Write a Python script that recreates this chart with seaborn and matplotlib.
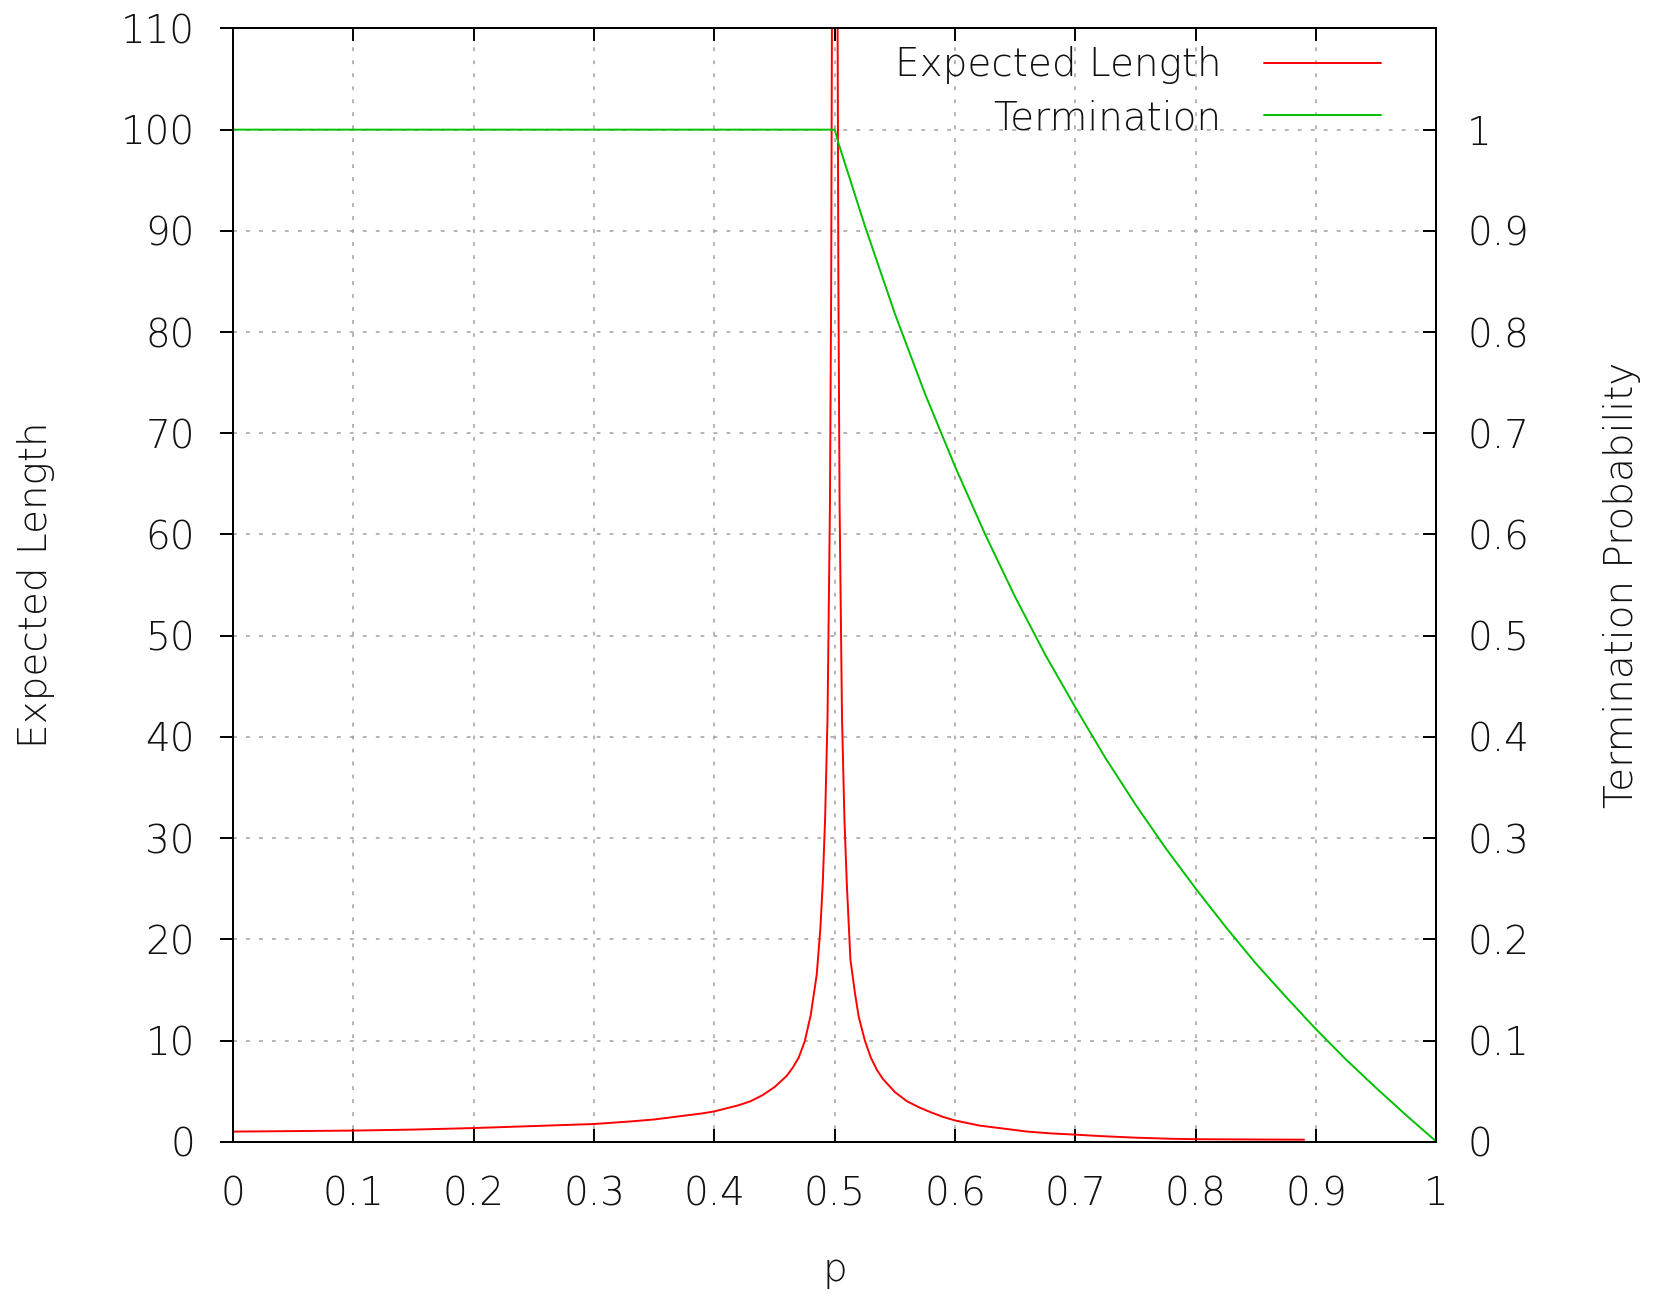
import numpy as np
import pandas as pd
import matplotlib
matplotlib.use("Agg")
import matplotlib.pyplot as plt
import seaborn as sns

# Expected length vs p (values above 110 are off the top)
p_len = [0.0, 0.05, 0.1, 0.15, 0.2, 0.25, 0.3, 0.33, 0.35, 0.37, 0.39, 0.40,
         0.41, 0.42, 0.43, 0.44, 0.45, 0.46, 0.465, 0.47, 0.475, 0.48, 0.485,
         0.488, 0.490, 0.492, 0.494, 0.496, 0.497, 0.498, 0.499, 0.4995,
         0.5005, 0.501, 0.502, 0.503, 0.504, 0.506, 0.508, 0.51, 0.513, 0.517,
         0.52, 0.525, 0.53, 0.535, 0.54, 0.55, 0.56, 0.57, 0.58, 0.59, 0.6,
         0.62, 0.64, 0.66, 0.68, 0.70, 0.72, 0.75, 0.78, 0.8, 0.85, 0.89]
len_vals = [1.0, 1.05, 1.1, 1.2, 1.35, 1.55, 1.75, 2.0, 2.2, 2.5, 2.8, 3.0,
            3.3, 3.6, 4.0, 4.6, 5.4, 6.5, 7.3, 8.3, 9.9, 12.5, 16.5,
            21.0, 25.5, 32.0, 42.0, 63.0, 84.0, 125.0, 250.0, 500.0,
            500.0, 250.0, 125.0, 85.0, 63.0, 42.0, 32.0, 25.5, 18.0, 14.5,
            12.3, 10.0, 8.3, 7.1, 6.2, 4.9, 4.0, 3.4, 2.9, 2.45, 2.1,
            1.6, 1.3, 1.0, 0.82, 0.7, 0.56, 0.4, 0.29, 0.25, 0.22, 0.2]

# Termination probability vs p
p_term = [0.0, 0.1, 0.2, 0.3, 0.4, 0.5, 0.503, 0.525, 0.55, 0.575, 0.6,
          0.625, 0.65, 0.675, 0.7, 0.725, 0.75, 0.775, 0.8, 0.825, 0.85,
          0.875, 0.9, 0.925, 0.95, 0.975, 1.0]
term_vals = [1.0, 1.0, 1.0, 1.0, 1.0, 1.0, 0.987, 0.905, 0.818, 0.739, 0.667,
             0.6, 0.538, 0.481, 0.429, 0.379, 0.333, 0.29, 0.25, 0.212, 0.176,
             0.143, 0.111, 0.081, 0.053, 0.026, 0.0]

x_ticks = [0, 0.1, 0.2, 0.3, 0.4, 0.5, 0.6, 0.7, 0.8, 0.9, 1]
x_labels = ["0", "0.1", "0.2", "0.3", "0.4", "0.5", "0.6", "0.7", "0.8", "0.9", "1"]
y_ticks = list(range(0, 111, 10))
y2_ticks = [0, 0.1, 0.2, 0.3, 0.4, 0.5, 0.6, 0.7, 0.8, 0.9, 1]
y2_labels = ["0", "0.1", "0.2", "0.3", "0.4", "0.5", "0.6", "0.7", "0.8", "0.9", "1"]

sns.set_style("white")
plt.rcParams['font.family'] = ['DejaVu Sans']
plt.rcParams['font.weight'] = 'light'
plt.rcParams['axes.labelweight'] = 'light'
fs = 28
txt = '#111111'

df_len = pd.DataFrame({'p': p_len, 'len': len_vals})
df_term = pd.DataFrame({'p': p_term, 'term': term_vals})

fig = plt.figure(figsize=(16.53, 12.93), dpi=100)
ax = fig.add_axes([0.141, 0.117, 0.728, 0.861])
ax2 = ax.twinx()

sns.lineplot(data=df_len, x='p', y='len', color='#ff0000', lw=1.4, ax=ax,
             label='Expected Length', legend=False, sort=False)
sns.lineplot(data=df_term, x='p', y='term', color='#00c000', lw=1.4, ax=ax2,
             label='Termination', legend=False, sort=False)

ax.set_xlim(0, 1)
ax.set_ylim(0, 110)
ax2.set_ylim(0, 1.1)

ax.set_xticks(x_ticks)
ax.set_xticklabels(x_labels)
ax.set_yticks(y_ticks)
ax2.set_yticks(y2_ticks)
ax2.set_yticklabels(y2_labels)

ax.grid(True, linestyle=(0, (2.5, 6)), color='#a0a0a0', lw=1.1)
ax2.grid(False)

for a in (ax, ax2):
    for s in a.spines.values():
        s.set_visible(True)
        s.set_color('black')
        s.set_linewidth(1.4)

ax.tick_params(axis='x', direction='in', length=9.5, width=1.4, pad=24,
               labelsize=fs, colors='black', labelcolor=txt, top=True, bottom=True)
ax.tick_params(axis='y', direction='out', length=9.5, width=1.4, pad=18,
               labelsize=fs, colors='black', labelcolor=txt, left=True, right=False)
ax2.tick_params(axis='y', direction='in', length=9.5, width=1.4, pad=22,
                labelsize=fs, colors='black', labelcolor=txt, right=True)

ax.set_xlabel('p', fontsize=fs, color=txt, fontweight='light')
ax.set_ylabel('Expected Length', fontsize=fs, color=txt, fontweight='light')
ax2.set_ylabel('Termination Probability', fontsize=fs, color=txt, fontweight='light')
ax.xaxis.set_label_coords(0.5, -0.098)
ax.yaxis.set_label_coords(-0.148, 0.5)
ax2.yaxis.set_label_coords(1.138, 0.5)

h1, l1 = ax.get_legend_handles_labels()
h2, l2 = ax2.get_legend_handles_labels()
leg = ax2.legend(h1 + h2, l1 + l2, loc='upper right', bbox_to_anchor=(0.954, 0.984),
                 frameon=False, markerfirst=False, fontsize=fs, handlelength=3.0,
                 handletextpad=1.1, labelspacing=0.38, borderpad=0, borderaxespad=0)
for t in leg.get_texts():
    t.set_color(txt)

fig.savefig('out.png', dpi=100)
